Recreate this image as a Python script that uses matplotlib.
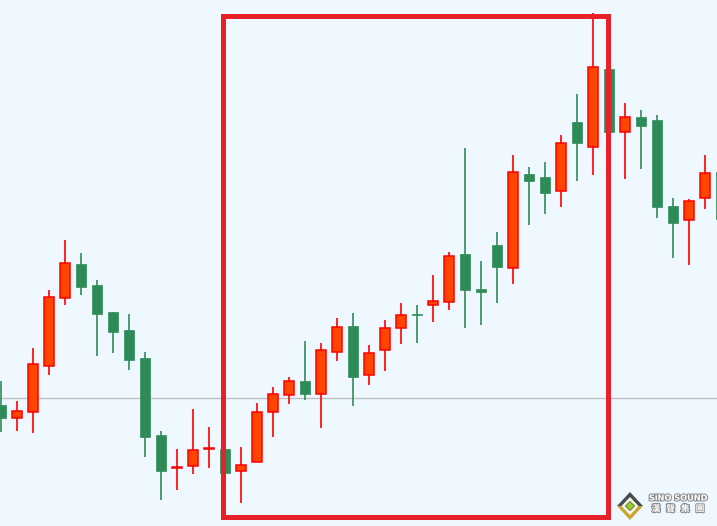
import matplotlib.pyplot as plt
import numpy as np
from matplotlib.patches import Rectangle, Polygon
from matplotlib.patheffects import withStroke

plt.rcParams['font.family'] = ['DejaVu Sans', 'Noto Sans CJK TC']

# candle data (open / high / low / close)
opens = [121, 108, 114, 160, 228, 262, 241, 214, 196, 168, 91, 58, 60, 77, 77,
         55, 64, 114, 131, 145, 132, 174, 200, 151, 176, 198, 212, 221, 224,
         272, 237, 281, 258, 352, 349, 335, 404, 379, 457, 394, 409, 406, 320,
         306, 328, 354]
highs = [145, 125, 178, 236, 286, 273, 246, 214, 212, 174, 95, 77, 117, 99, 86,
         79, 123, 139, 149, 185, 183, 208, 213, 181, 206, 223, 221, 251, 274,
         378, 265, 294, 371, 359, 364, 391, 432, 513, 466, 423, 416, 411, 328,
         327, 371, 360]
lows = [94, 95, 93, 151, 221, 231, 170, 173, 156, 69, 26, 36, 52, 58, 51,
        23, 64, 89, 122, 126, 98, 165, 120, 141, 155, 182, 183, 204, 216,
        198, 201, 223, 242, 301, 312, 319, 345, 351, 386, 347, 357, 308, 268,
        261, 317, 300]
closes = [108, 115, 162, 229, 263, 239, 212, 194, 166, 89, 55, 59, 76, 78, 53,
          61, 114, 132, 145, 132, 176, 199, 149, 173, 198, 211, 211, 225, 270,
          236, 234, 259, 354, 345, 333, 383, 383, 459, 394, 409, 400, 319, 303,
          325, 353, 307]

ref_level = 128          # thin gray horizontal line
box_range = (13.86, 37.92)   # highlighted candles (x, in candle index units)
box_price = (9, 510)

UP_FILL = '#ff4500'
UP_EDGE = '#ff0000'
DOWN = '#2e8b57'
BG = '#f0f8ff'

fig = plt.figure(figsize=(7.17, 5.26), dpi=100, facecolor=BG)
ax = fig.add_axes([0, 0, 1, 1], facecolor=BG)
ax.set_xlim(-1.3 / 16, (717 - 1.3) / 16)
ax.set_ylim(0, 526)
ax.axis('off')

ax.axhline(ref_level, color='#c0c0c0', lw=1.0, zorder=1)

width = 0.62
for i, (o, h, l, c) in enumerate(zip(opens, highs, lows, closes)):
    up = c >= o
    wick_col = UP_EDGE if up else DOWN
    ax.vlines(i, l, h, color=wick_col, lw=1.2, zorder=2)
    bottom = min(o, c)
    height = max(abs(c - o), 1.0)
    if up:
        rect = Rectangle((i - width / 2, bottom), width, height,
                         facecolor=UP_FILL, edgecolor=UP_EDGE, lw=1.1, zorder=3)
    else:
        rect = Rectangle((i - width / 2, bottom), width, height,
                         facecolor=DOWN, edgecolor=DOWN, lw=0.5, zorder=3)
    ax.add_patch(rect)

# highlight box
box = Rectangle((box_range[0], box_price[0]), box_range[1] - box_range[0],
                box_price[1] - box_price[0], fill=False,
                edgecolor='#e8202a', lw=3.6, zorder=5)
ax.add_patch(box)

# logo (figure pixel coords)
def fpx(x, y):
    return (x / 717, 1 - y / 526)

cx, cy = 630, 506
outer_top = Polygon([fpx(cx - 13, cy), fpx(cx, cy - 14), fpx(cx + 13, cy)],
                    closed=True, transform=fig.transFigure,
                    facecolor='#4a4a4a', edgecolor='none', zorder=6)
outer_bot = Polygon([fpx(cx - 13, cy), fpx(cx + 13, cy), fpx(cx, cy + 14)],
                    closed=True, transform=fig.transFigure,
                    facecolor='#c8a830', edgecolor='none', zorder=6)
inner = Polygon([fpx(cx, cy - 9), fpx(cx + 8.5, cy), fpx(cx, cy + 9),
                 fpx(cx - 8.5, cy)],
                closed=True, transform=fig.transFigure,
                facecolor='#f4f4f4', edgecolor='none', zorder=7)
core = Polygon([fpx(cx, cy - 4.5), fpx(cx + 4.5, cy), fpx(cx, cy + 4.5),
                fpx(cx - 4.5, cy)],
               closed=True, transform=fig.transFigure,
               facecolor='#9acd32', edgecolor='#6b8e23', lw=0.8, zorder=8)
fig.patches.extend([outer_top, outer_bot, inner, core])

logo_fx = [withStroke(linewidth=1.5, foreground='#8a8a8a')]
fig.text(*fpx(678, 498), 'SiNO SOUND', color='white', fontsize=5.9,
         fontweight='bold', ha='center', va='center', path_effects=logo_fx)
fig.text(*fpx(678, 509), '漢   聲   集   團', color='white', fontsize=6.3,
         fontweight='bold', ha='center', va='center',
         family=['Noto Sans CJK TC', 'DejaVu Sans'], path_effects=logo_fx)

plt.savefig('out.png', dpi=100, facecolor=BG)
